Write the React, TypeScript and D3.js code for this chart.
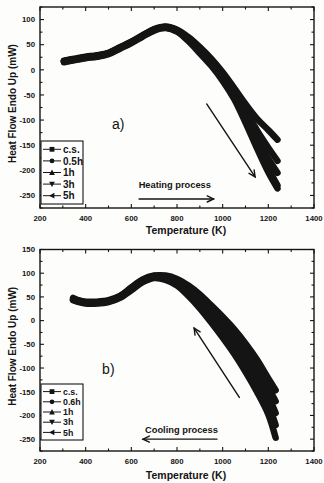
import React from "react";
import * as d3 from "d3";

const legendLabelsA = ["c.s.", "0.5h", "1h", "3h", "5h"];
const legendLabelsB = ["c.s.", "0.6h", "1h", "3h", "5h"];
const xTicks = [200, 400, 600, 800, 1000, 1200, 1400];
const yTicksA = [100, 50, 0, -50, -100, -150, -200, -250];
const yTicksB = [150, 100, 50, 0, -50, -100, -150, -200, -250];

const heatT = [305, 350, 400, 450, 500, 550, 600, 650, 700, 750, 800, 850, 900, 950, 1000, 1050, 1100, 1150, 1200, 1240];
const heatCS = [18, 22, 26, 29, 34, 45, 56, 69, 81, 86, 80, 65, 45, 22, -5, -36, -68, -97, -120, -139];
const heat05 = [17, 21, 25, 28, 33, 44, 55, 68, 80, 85, 79, 63, 42, 18, -9, -42, -80, -120, -155, -181];
const heat1 = [17, 21, 25, 28, 33, 44, 55, 68, 80, 85, 78, 61, 39, 15, -13, -48, -90, -135, -177, -205];
const heat3 = [16, 20, 24, 27, 32, 43, 54, 67, 79, 84, 77, 59, 36, 11, -18, -54, -100, -150, -197, -230];
const heat5 = [15, 19, 23, 26, 31, 42, 53, 66, 78, 83, 76, 57, 33, 8, -22, -58, -105, -156, -204, -236];

const coolT = [345, 370, 400, 450, 500, 550, 600, 650, 700, 750, 800, 850, 900, 950, 1000, 1050, 1100, 1150, 1200, 1232];
const coolCS = [48, 43, 40, 40, 43, 52, 70, 87, 95, 95, 88, 74, 55, 32, 8, -18, -48, -82, -122, -147];
const cool05 = [46, 42, 39, 39, 42, 51, 69, 85, 94, 93, 84, 68, 47, 22, -4, -32, -64, -100, -142, -170];
const cool1 = [45, 41, 38, 38, 41, 50, 67, 84, 93, 91, 81, 63, 40, 14, -14, -44, -78, -116, -160, -195];
const cool3 = [44, 40, 37, 37, 40, 49, 66, 83, 91, 89, 78, 58, 34, 6, -24, -56, -92, -132, -178, -220];
const cool5 = [43, 39, 36, 36, 39, 48, 64, 81, 90, 86, 74, 52, 26, -4, -36, -70, -108, -150, -198, -247];

const FONT = "'Liberation Sans', Arial, sans-serif";
const INK = "#141414";

function Marker({ kind, cx, cy, s }: { kind: number; cx: number; cy: number; s: number }) {
  if (kind === 0) return <rect x={cx - s} y={cy - s} width={2 * s} height={2 * s} fill={INK} />;
  if (kind === 1) return <circle cx={cx} cy={cy} r={s} fill={INK} />;
  const pts =
    kind === 2
      ? [[cx, cy - s * 1.2], [cx - s * 1.2, cy + s], [cx + s * 1.2, cy + s]]
      : kind === 3
      ? [[cx, cy + s * 1.2], [cx - s * 1.2, cy - s], [cx + s * 1.2, cy - s]]
      : [[cx - s * 1.2, cy], [cx + s, cy - s * 1.2], [cx + s, cy + s * 1.2]];
  return <polygon points={pts.map((p) => p.join(",")).join(" ")} fill={INK} />;
}

function Arrow({ x1, y1, x2, y2 }: { x1: number; y1: number; x2: number; y2: number }) {
  const a = Math.atan2(y2 - y1, x2 - x1);
  const L = 7;
  const w = 0.45;
  const p1 = [x2 - L * Math.cos(a - w), y2 - L * Math.sin(a - w)];
  const p2 = [x2 - L * Math.cos(a + w), y2 - L * Math.sin(a + w)];
  return (
    <g stroke={INK} strokeWidth={1.4} fill="none" strokeLinecap="round">
      <line x1={x1} y1={y1} x2={x2} y2={y2} />
      <polyline points={`${p1.join(",")} ${x2},${y2} ${p2.join(",")}`} />
    </g>
  );
}

type PanelProps = {
  top: number;
  bottom: number;
  yDomain: [number, number];
  yTicks: number[];
  T: number[];
  series: number[][];
  labels: string[];
  legendTop: number;
  legendBottom: number;
  legendFont: number;
  tag: string;
  tagAt: [number, number];
  procText: string;
  procAt: [number, number];
  hArrow: [number, number, number];
  dArrow: [number, number, number, number];
  xLabelY: number;
  titleY: number;
};

function Panel(p: PanelProps) {
  const left = 40;
  const right = 314;
  const x = d3.scaleLinear().domain([200, 1400]).range([left, right]);
  const y = d3.scaleLinear().domain(p.yDomain).range([p.bottom, p.top]);
  const line = d3
    .line<number>()
    .x((_, i) => x(p.T[i]))
    .y((d) => y(d))
    .curve(d3.curveCatmullRom);
  const xMinor = d3.range(200, 1401, 100);
  const yMinor = d3.range(Math.ceil(p.yDomain[0] / 25) * 25, p.yDomain[1] + 1, 25);
  const n = p.labels.length;
  const rowH = (p.legendBottom - p.legendTop - 5) / n;
  return (
    <g>
      <g fill="none" stroke={INK} strokeWidth={6.5} strokeLinecap="round" strokeLinejoin="round">
        {p.series.map((s, i) => (
          <path key={i} d={line(s) || ""} />
        ))}
      </g>
      <rect x={left} y={p.top} width={right - left} height={p.bottom - p.top} fill="none" stroke={INK} strokeWidth={1.4} />
      {xMinor.map((t) => {
        const major = t % 200 === 0;
        const len = major ? 4 : 2.5;
        return (
          <g key={"x" + t} stroke={INK} strokeWidth={1.1}>
            <line x1={x(t)} x2={x(t)} y1={p.bottom} y2={p.bottom - len} />
            <line x1={x(t)} x2={x(t)} y1={p.top} y2={p.top + len} />
          </g>
        );
      })}
      {yMinor.map((t) => {
        const major = t % 50 === 0;
        const len = major ? 4 : 2.5;
        return (
          <g key={"y" + t} stroke={INK} strokeWidth={1.1}>
            <line x1={left} x2={left + len} y1={y(t)} y2={y(t)} />
            <line x1={right} x2={right - len} y1={y(t)} y2={y(t)} />
          </g>
        );
      })}
      <g fontFamily={FONT} fontSize={7.8} fontWeight="bold" fill={INK}>
        {xTicks.map((t) => (
          <text key={"xl" + t} x={x(t)} y={p.xLabelY} textAnchor="middle">
            {t}
          </text>
        ))}
        {p.yTicks.map((t) => (
          <text key={"yl" + t} x={left - 5} y={y(t) + 2.8} textAnchor="end">
            {t}
          </text>
        ))}
      </g>
      <text x={186} y={p.titleY} textAnchor="middle" fontFamily={FONT} fontSize={10.5} fontWeight="bold" fill={INK}>
        Temperature (K)
      </text>
      <text
        transform={`translate(15.5,${(p.top + p.bottom) / 2 - 4}) rotate(-90)`}
        textAnchor="middle"
        fontFamily={FONT}
        fontSize={10}
        fontWeight="bold"
        fill={INK}
      >
        Heat Flow Endo Up (mW)
      </text>
      <rect x={left + 1} y={p.legendTop} width={42} height={p.legendBottom - p.legendTop} fill="white" stroke={INK} strokeWidth={1.1} />
      {p.labels.map((lab, i) => {
        const cy = p.legendTop + 2.5 + rowH * (i + 0.5);
        return (
          <g key={lab}>
            <line x1={left + 3} x2={left + 21} y1={cy} y2={cy} stroke={INK} strokeWidth={1} />
            <Marker kind={i} cx={left + 12} cy={cy} s={2.4} />
            <text x={left + 23} y={cy + p.legendFont * 0.36} fontFamily={FONT} fontSize={p.legendFont} fontWeight="bold" fill={INK}>
              {lab}
            </text>
          </g>
        );
      })}
      <text x={x(p.tagAt[0])} y={y(p.tagAt[1])} fontFamily={FONT} fontSize={14} fill={INK}>
        {p.tag}
      </text>
      <text x={x(p.procAt[0])} y={y(p.procAt[1])} fontFamily={FONT} fontSize={9.3} fontWeight="bold" fill={INK}>
        {p.procText}
      </text>
      <Arrow x1={x(p.hArrow[0])} y1={y(p.hArrow[2])} x2={x(p.hArrow[1])} y2={y(p.hArrow[2])} />
      <Arrow x1={x(p.dArrow[0])} y1={y(p.dArrow[1])} x2={x(p.dArrow[2])} y2={y(p.dArrow[3])} />
    </g>
  );
}

export default function App() {
  return (
    <svg
      width={324}
      height={483}
      viewBox="0 0 324 483"
      style={{ position: "absolute", left: 0, top: 0, background: "#fdfdfb" }}
    >
      <rect width={324} height={483} fill="#fdfdfb" />
      <Panel
        top={7}
        bottom={208}
        yDomain={[-275, 125]}
        yTicks={yTicksA}
        T={heatT}
        series={[heatCS, heat05, heat1, heat3, heat5]}
        labels={legendLabelsA}
        legendTop={141}
        legendBottom={204}
        legendFont={10}
        tag="a)"
        tagAt={[515, -118]}
        procText="Heating process"
        procAt={[632, -235]}
        hArrow={[634, 960, -257]}
        dArrow={[930, -68, 1142, -213]}
        xLabelY={221}
        titleY={234}
      />
      <Panel
        top={249.5}
        bottom={451}
        yDomain={[-275, 150]}
        yTicks={yTicksB}
        T={coolT}
        series={[coolCS, cool05, cool1, cool3, cool5]}
        labels={legendLabelsB}
        legendTop={384}
        legendBottom={440}
        legendFont={8.8}
        tag="b)"
        tagAt={[472, -112]}
        procText="Cooling process"
        procAt={[660, -237]}
        hArrow={[975, 651, -250]}
        dArrow={[1073, -162, 875, -16]}
        xLabelY={464}
        titleY={479}
      />
    </svg>
  );
}
